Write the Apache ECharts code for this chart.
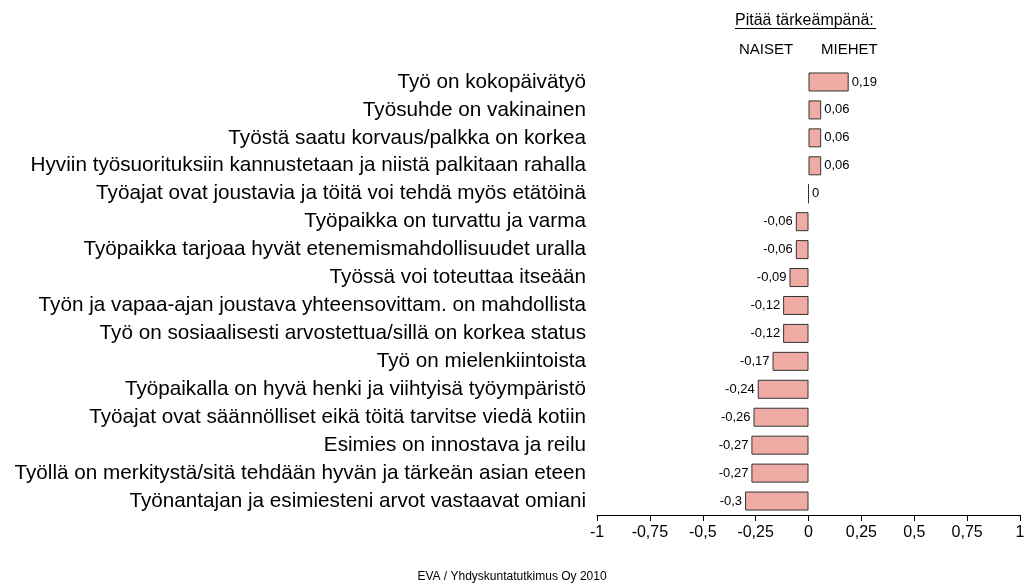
<!DOCTYPE html>
<html>
<head>
<meta charset="utf-8">
<script src="https://cdn.jsdelivr.net/npm/echarts@6/dist/echarts.min.js"></script>
<style>
  html, body { margin: 0; padding: 0; background: #fff; }
  #chart { width: 1024px; height: 587px; }
</style>
</head>
<body>
<div id="chart"></div>
<script>
// top to bottom
var categories = [
  'Työ on kokopäivätyö',
  'Työsuhde on vakinainen',
  'Työstä saatu korvaus/palkka on korkea',
  'Hyviin työsuorituksiin kannustetaan ja niistä palkitaan rahalla',
  'Työajat ovat joustavia ja töitä voi tehdä myös etätöinä',
  'Työpaikka on turvattu ja varma',
  'Työpaikka tarjoaa hyvät etenemismahdollisuudet uralla',
  'Työssä voi toteuttaa itseään',
  'Työn ja vapaa-ajan joustava yhteensovittam. on mahdollista',
  'Työ on sosiaalisesti arvostettua/sillä on korkea status',
  'Työ on mielenkiintoista',
  'Työpaikalla on hyvä henki ja viihtyisä työympäristö',
  'Työajat ovat säännölliset eikä töitä tarvitse viedä kotiin',
  'Esimies on innostava ja reilu',
  'Työllä on merkitystä/sitä tehdään hyvän ja tärkeän asian eteen',
  'Työnantajan ja esimiesteni arvot vastaavat omiani'
];
var differences = [0.19, 0.06, 0.06, 0.06, 0, -0.06, -0.06, -0.09, -0.12, -0.12, -0.17, -0.24, -0.26, -0.27, -0.27, -0.3];
var tickValues = [-1, -0.75, -0.5, -0.25, 0, 0.25, 0.5, 0.75, 1];

var font = '"Liberation Sans", Arial, sans-serif';

function fi(v) {
  return String(v).replace('.', ',');
}

var chart = echarts.init(document.getElementById('chart'));

var option = {
  animation: false,
  textStyle: { fontFamily: font, color: '#000' },
  grid: { left: 597, right: 4, top: 68, bottom: 72, outerBoundsMode: 'none' },
  xAxis: {
    type: 'value',
    min: tickValues[0],
    max: tickValues[tickValues.length - 1],
    interval: 0.25,
    splitLine: { show: false },
    axisLine: { show: true, lineStyle: { color: '#000', width: 1 } },
    axisTick: { show: true, length: 6, lineStyle: { color: '#000' } },
    axisLabel: {
      color: '#000', fontSize: 16, fontFamily: font, margin: 10,
      showMinLabel: true, showMaxLabel: true,
      formatter: function (v) { return fi(v); }
    }
  },
  yAxis: {
    type: 'category',
    data: categories,
    inverse: true,
    axisLine: { show: false, onZero: false },
    axisTick: { show: false },
    axisLabel: { color: '#000', fontSize: 20.7, fontFamily: font, margin: 11 }
  },
  series: [{
    type: 'bar',
    barWidth: 19,
    data: differences.map(function (v) {
      return {
        value: v,
        label: { position: v < 0 ? 'left' : 'right' }
      };
    }),
    itemStyle: { color: '#f0aca4', borderColor: '#333', borderWidth: 1 },
    label: {
      show: true,
      color: '#000',
      fontSize: 13,
      fontFamily: font,
      distance: 3,
      formatter: function (p) { return fi(p.value); }
    }
  }],
  graphic: [
    {
      type: 'text', left: 735, top: 13,
      style: { text: 'Pitää tärkeämpänä:', fontSize: 16, fontFamily: font, fill: '#000' }
    },
    {
      type: 'line', shape: { x1: 735, y1: 28.5, x2: 876, y2: 28.5 },
      style: { stroke: '#000', lineWidth: 1 }
    },
    {
      type: 'text', left: 739, top: 42,
      style: { text: 'NAISET', fontSize: 15, fontFamily: font, fill: '#000' }
    },
    {
      type: 'text', left: 821, top: 42,
      style: { text: 'MIEHET', fontSize: 15, fontFamily: font, fill: '#000' }
    },
    {
      type: 'text', left: 'center', top: 571,
      style: { text: 'EVA / Yhdyskuntatutkimus Oy 2010', fontSize: 12, fontFamily: font, fill: '#000' }
    }
  ]
};

chart.setOption(option);
</script>
</body>
</html>
